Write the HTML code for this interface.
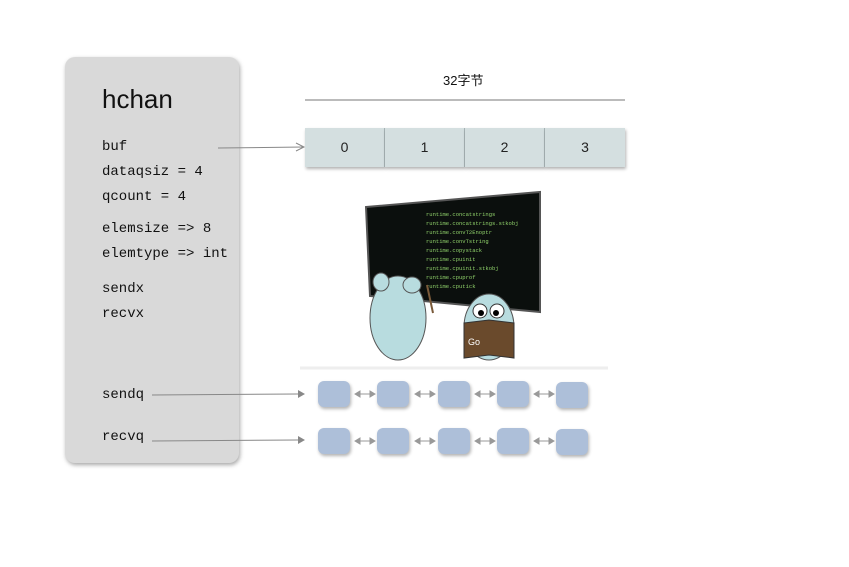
<!DOCTYPE html>
<html><head><meta charset="utf-8"><style>
body{margin:0;background:#fff;width:849px;height:567px;overflow:hidden;position:relative;font-family:"Liberation Sans","Noto Sans CJK SC",sans-serif}
.box{position:absolute;left:65px;top:57px;width:174px;height:406px;background:#d9d9d9;border-radius:10px;box-shadow:1px 2px 4px rgba(0,0,0,.35)}
.t{position:absolute;left:102px;font-family:"Liberation Mono","DejaVu Sans Mono",monospace;font-size:14px;color:#111;line-height:16px}
.cell{position:absolute;top:128px;width:80px;height:39px;background:#d4dfe0;box-shadow:1px 2px 3px rgba(0,0,0,.3);text-align:center;line-height:39px;font-size:14px;color:#222;border-right:1px solid #a8b4b6;box-sizing:border-box}
.q{position:absolute;width:32px;height:26px;background:#adbfd9;border-radius:6px;box-shadow:1px 2px 3px rgba(0,0,0,.3)}
</style></head><body>
<div class="box"></div>
<div style="position:absolute;left:102px;top:84px;font-size:26px;color:#111">hchan</div>
<div class="t" style="top:139px">buf</div>
<div class="t" style="top:164px">dataqsiz = 4</div>
<div class="t" style="top:189px">qcount = 4</div>
<div class="t" style="top:221px">elemsize =&gt; 8</div>
<div class="t" style="top:246px">elemtype =&gt; int</div>
<div class="t" style="top:281px">sendx</div>
<div class="t" style="top:306px">recvx</div>
<div class="t" style="top:387px">sendq</div>
<div class="t" style="top:429px">recvq</div>
<div style="position:absolute;left:443px;top:70px;font-size:13px;color:#111">32字节</div>
<div class="cell" style="left:305px">0</div>
<div class="cell" style="left:385px">1</div>
<div class="cell" style="left:465px">2</div>
<div class="cell" style="left:545px;border-right:none">3</div>
<div class="q" style="left:318px;top:381px"></div><div class="q" style="left:377px;top:381px"></div><div class="q" style="left:438px;top:381px"></div><div class="q" style="left:497px;top:381px"></div><div class="q" style="left:556px;top:382px"></div>
<div class="q" style="left:318px;top:428px"></div><div class="q" style="left:377px;top:428px"></div><div class="q" style="left:438px;top:428px"></div><div class="q" style="left:497px;top:428px"></div><div class="q" style="left:556px;top:429px"></div>
<svg width="849" height="567" style="position:absolute;left:0;top:0">
<line x1="305" y1="100" x2="625" y2="100" stroke="#777" stroke-width="1"/>
<line x1="218" y1="148" x2="304" y2="147" stroke="#888"/>
<polyline points="296,143 304,147 296,151" fill="none" stroke="#888"/>
<line x1="152" y1="395" x2="298" y2="394" stroke="#888"/><polygon points="298,390 305,394 298,398" fill="#888"/>
<line x1="152" y1="441" x2="298" y2="440" stroke="#888"/><polygon points="298,436 305,440 298,444" fill="#888"/>
<g fill="#999" stroke="#999">
<g id="a"><line x1="357" y1="394" x2="373" y2="394"/><polygon points="355,394 360,391 360,397"/><polygon points="375,394 370,391 370,397"/></g>
<use href="#a" x="60"/><use href="#a" x="120"/><use href="#a" x="179"/>
<use href="#a" y="47"/><use href="#a" x="60" y="47"/><use href="#a" x="120" y="47"/><use href="#a" x="179" y="47"/>
</g>
<line x1="300" y1="368" x2="608" y2="368" stroke="#eee" stroke-width="3"/>
<polygon points="366,207 540,192 540,312 370,296" fill="#0b0f0d" stroke="#555" stroke-width="2"/>
<g fill="#8fd06a" font-family="Liberation Mono,monospace" font-size="5.5">
<text x="426" y="216">runtime.concatstrings</text><text x="426" y="225">runtime.concatstrings.stkobj</text>
<text x="426" y="234">runtime.convT2Enoptr</text><text x="426" y="243">runtime.convTstring</text>
<text x="426" y="252">runtime.copystack</text><text x="426" y="261">runtime.cpuinit</text>
<text x="426" y="270">runtime.cpuinit.stkobj</text><text x="426" y="279">runtime.cpuprof</text>
<text x="426" y="288">runtime.cputick</text>
</g>
<ellipse cx="398" cy="318" rx="28" ry="42" fill="#b8dcdf" stroke="#555"/>
<ellipse cx="381" cy="282" rx="8" ry="9" fill="#b8dcdf" stroke="#555"/>
<ellipse cx="412" cy="285" rx="9" ry="8" fill="#b8dcdf" stroke="#555"/>
<line x1="427" y1="285" x2="433" y2="313" stroke="#7a5a3a" stroke-width="2"/>
<ellipse cx="489" cy="327" rx="25" ry="33" fill="#b8dcdf" stroke="#555"/>
<circle cx="480" cy="311" r="7" fill="#fff" stroke="#333"/><circle cx="497" cy="311" r="7" fill="#fff" stroke="#333"/>
<circle cx="481" cy="313" r="3" fill="#000"/><circle cx="496" cy="313" r="3" fill="#000"/>
<polygon points="464,323 489,320 514,323 514,358 489,355 464,358" fill="#6a4a2c" stroke="#333"/>
<text x="468" y="345" fill="#fff" font-size="9">Go</text>
</svg>
</body></html>
